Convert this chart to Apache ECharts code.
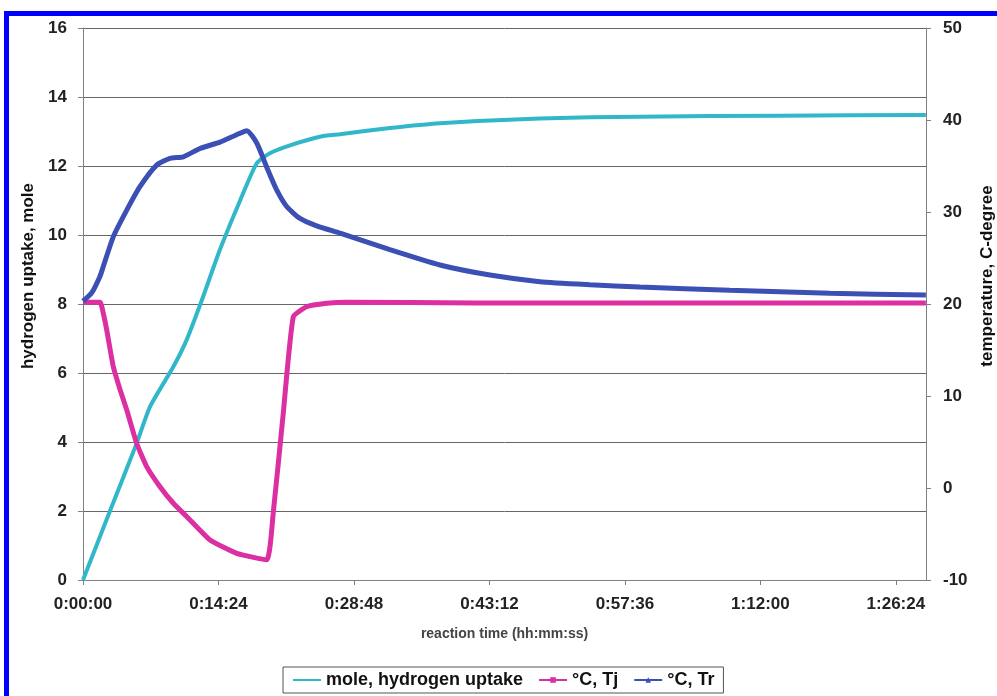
<!DOCTYPE html>
<html>
<head>
<meta charset="utf-8">
<script src="https://cdn.jsdelivr.net/npm/echarts@6/dist/echarts.min.js"></script>
<style>
html,body{margin:0;padding:0;background:#fff;}
#chart{width:997px;height:696px;}
</style>
</head>
<body>
<div id="chart"></div>
<script>
// time in seconds
const uptakeTime = [0, 172, 342, 427, 576, 661, 757, 873, 1002, 1108, 1192, 1320, 1511, 1639, 1957, 2276, 2914, 3551, 4444, 5375];
const uptakeMole = [0, 2.0, 3.96, 5.02, 6.18, 6.96, 8.1, 9.57, 11.0, 12.08, 12.37, 12.6, 12.85, 12.92, 13.1, 13.24, 13.38, 13.43, 13.46, 13.48];

const tjTime = [0, 108, 129, 151, 193, 236, 279, 342, 406, 491, 576, 661, 810, 980, 1171, 1213, 1277, 1341, 1426, 1554, 1681, 2500, 3500, 4500, 5375];
const tjTemp = [20.2, 20.2, 19.0, 17.2, 13.2, 10.7, 8.48, 4.86, 2.32, 0.14, -1.66, -3.1, -5.65, -7.1, -7.8, -2.75, 8.1, 18.6, 19.7, 20.07, 20.2, 20.1, 20.1, 20.1, 20.1];

const trTime = [0, 55, 108, 129, 193, 279, 363, 470, 555, 640, 746, 874, 980, 1044, 1108, 1171, 1235, 1299, 1384, 1490, 1639, 1957, 2276, 2595, 2914, 3233, 3551, 4125, 4763, 5375];
const trTemp = [20.3, 21.2, 23.0, 24.05, 27.3, 30.2, 32.75, 35.1, 35.84, 36.0, 36.9, 37.6, 38.4, 38.84, 37.5, 34.9, 32.4, 30.6, 29.3, 28.5, 27.7, 25.9, 24.24, 23.15, 22.43, 22.1, 21.85, 21.5, 21.16, 20.98];

const seriesNames = ['mole, hydrogen uptake', '\u00B0C, Tj', '\u00B0C, Tr'];
const xMax = 5376, xInterval = 864;

function pairs(t, v) { return t.map((x, i) => [x, v[i]]); }
function fmt(sec) {
  sec = Math.round(sec);
  const h = Math.floor(sec / 3600), m = Math.floor((sec % 3600) / 60), s = sec % 60;
  return h + ':' + String(m).padStart(2, '0') + ':' + String(s).padStart(2, '0');
}

const FONT = '"Liberation Sans", Arial, sans-serif';
const chart = echarts.init(document.getElementById('chart'), null, {renderer: 'canvas'});
const labelStyle = {color: '#222', fontFamily: FONT, fontWeight: 'bold', fontSize: 17};
const titleStyle = {color: '#111', fontFamily: FONT, fontWeight: 'bold', fontSize: 17, padding: [0, 0, 0, 56]};

chart.setOption({
  backgroundColor: '#fff',
  animation: false,
  graphic: [
    {type: 'rect', left: 4, top: 11, shape: {width: 993, height: 5}, style: {fill: '#0000ff'}, z: 100},
    {type: 'rect', left: 4, top: 11, shape: {width: 5, height: 685}, style: {fill: '#0000ff'}, z: 100}
  ],
  grid: {left: 83, right: 71, top: 28, bottom: 116, show: false, containLabel: false, outerBoundsMode: 'none'},
  legend: {
    data: seriesNames,
    bottom: 3,
    left: 283,
    borderColor: '#555',
    borderWidth: 1,
    padding: [4, 9, 4, 9],
    itemGap: 15,
    itemWidth: 28,
    itemHeight: 7,
    textStyle: {color: '#111', fontFamily: FONT, fontWeight: 'bold', fontSize: 18}
  },
  xAxis: {
    type: 'value', min: 0, max: xMax, interval: xInterval,
    name: 'reaction time (hh:mm:ss)', nameLocation: 'middle', nameGap: 47,
    nameTextStyle: {color: '#444', fontFamily: FONT, fontWeight: 'bold', fontSize: 14},
    axisLine: {show: true, onZero: false, lineStyle: {color: '#808080', width: 1}},
    axisTick: {show: true, length: 5, lineStyle: {color: '#808080'}},
    axisLabel: Object.assign({margin: 16, showMaxLabel: false, formatter: v => fmt(v)}, labelStyle),
    splitLine: {show: false}
  },
  yAxis: [
    {
      type: 'value', min: 0, max: 16, interval: 2, position: 'left',
      name: 'hydrogen uptake, mole', nameLocation: 'middle', nameGap: 44, nameRotate: 90,
      nameTextStyle: titleStyle,
      axisLine: {show: true, lineStyle: {color: '#808080', width: 1}},
      axisTick: {show: true, length: 5, lineStyle: {color: '#808080'}},
      axisLabel: Object.assign({margin: 16}, labelStyle),
      splitLine: {show: true, lineStyle: {color: '#666', width: 1}}
    },
    {
      type: 'value', min: -10, max: 50, interval: 10, position: 'right',
      name: 'temperature, C-degree', nameLocation: 'middle', nameGap: 52, nameRotate: 90,
      nameTextStyle: titleStyle,
      axisLine: {show: true, lineStyle: {color: '#808080', width: 1}},
      axisTick: {show: true, length: 5, lineStyle: {color: '#808080'}},
      axisLabel: Object.assign({margin: 17}, labelStyle),
      splitLine: {show: false}
    }
  ],
  series: [
    {
      name: seriesNames[0], type: 'line', yAxisIndex: 0, data: pairs(uptakeTime, uptakeMole),
      showSymbol: false, symbol: 'path://M0,0L10,10M10,0L0,10', symbolSize: 7,
      smooth: 0.2,
      lineStyle: {color: '#31b7c9', width: 4}, itemStyle: {color: '#31b7c9', borderColor: '#31b7c9'}, z: 2
    },
    {
      name: seriesNames[1], type: 'line', yAxisIndex: 1, data: pairs(tjTime, tjTemp),
      showSymbol: false, symbol: 'rect', symbolSize: 7,
      smooth: 0.15,
      lineStyle: {color: '#db2fa2', width: 5}, itemStyle: {color: '#db2fa2'}, z: 3
    },
    {
      name: seriesNames[2], type: 'line', yAxisIndex: 1, data: pairs(trTime, trTemp),
      showSymbol: false, symbol: 'triangle', symbolSize: 8,
      smooth: 0.2,
      lineStyle: {color: '#3b4fb5', width: 5}, itemStyle: {color: '#3b4fb5'}, z: 4
    }
  ]
});
</script>
</body>
</html>
